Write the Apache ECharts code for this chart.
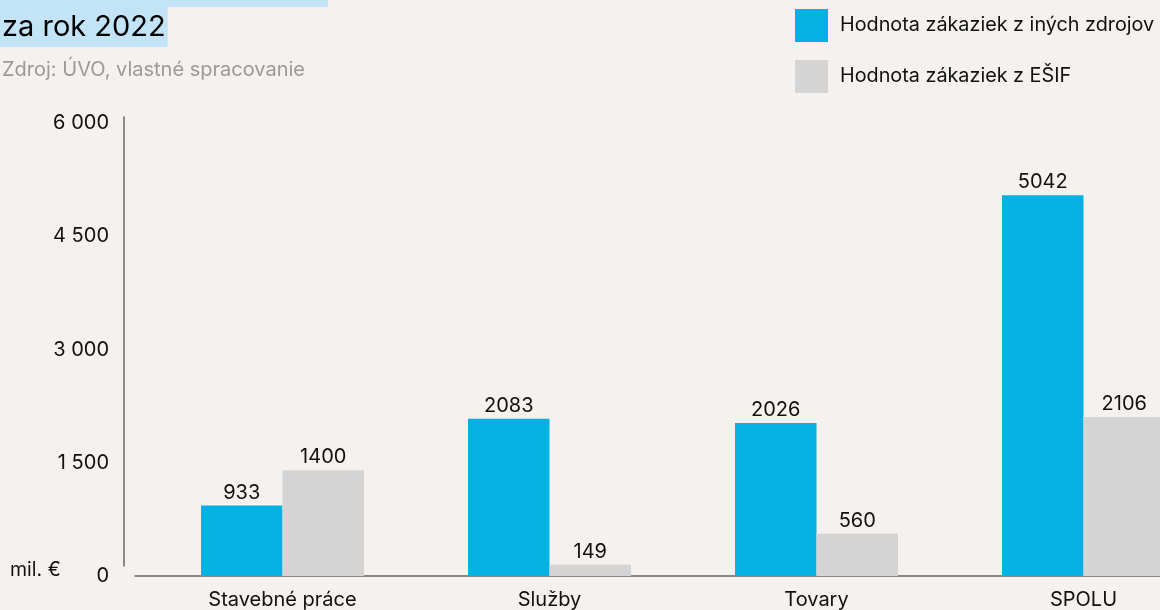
<!DOCTYPE html>
<html>
<head>
<meta charset="utf-8">
<script src="https://cdn.jsdelivr.net/npm/echarts@6/dist/echarts.min.js"></script>
<style>
  html, body { margin: 0; padding: 0; background: #f4f1ee; }
  #chart { width: 1160px; height: 610px; }
</style>
</head>
<body>
<div id="chart"></div>
<script>
const categories = ['Stavebné práce', 'Služby', 'Tovary', 'SPOLU'];
const otherSources = [933, 2083, 2026, 5042];
const esifValues = [1400, 149, 560, 2106];
const seriesNames = ['Hodnota zákaziek z iných zdrojov', 'Hodnota zákaziek z EŠIF'];
const yTicks = [0, 1500, 3000, 4500, 6000];
const titleText = 'za rok 2022';
const subtitleText = 'Zdroj: ÚVO, vlastné spracovanie';
const unitText = 'mil. €';

const FONT = 'Inter, "Noto Sans", sans-serif';
const chart = echarts.init(document.getElementById('chart'));

function fmt(v) {
  return String(v).replace(/\B(?=(\d{3})+(?!\d))/g, ' ');
}

chart.setOption({
  backgroundColor: '#f4f1ee',
  animation: false,
  textStyle: { fontFamily: FONT },
  title: [{
    text: titleText,
    left: 0, top: 7,
    padding: [5, 2, 5, 2],
    backgroundColor: '#c3e4f6',
    textStyle: { fontFamily: FONT, fontSize: 29, lineHeight: 30, fontWeight: 'normal', color: '#000' }
  }, {
    text: subtitleText,
    left: 2, top: 60,
    padding: 0,
    textStyle: { fontFamily: FONT, fontSize: 20, fontWeight: 'normal', color: '#9a9a9a' }
  }],
  legend: {
    orient: 'vertical',
    left: 795, top: 9,
    padding: 0,
    itemWidth: 33, itemHeight: 33, itemGap: 18,
    icon: 'rect',
    data: seriesNames,
    textStyle: { fontFamily: FONT, fontSize: 19.8, color: '#111', padding: [0, 0, 0, 7] }
  },
  graphic: [
    { type: 'rect', shape: { x: 0, y: 0, width: 328, height: 7 }, style: { fill: '#c3e4f6' } },
    { type: 'text', left: 10, top: 560, style: { text: unitText, font: '19.5px ' + FONT, fill: '#111' } }
  ],
  grid: [
    { left: 149, width: 1068, top: 123, bottom: 34, outerBoundsMode: 'none', containLabel: false },
    { left: 135, right: 0, top: 117, bottom: 34, outerBoundsMode: 'none' },
    { left: 124, right: 0, top: 117, bottom: 44, outerBoundsMode: 'none' }
  ],
  xAxis: [{
    type: 'category', gridIndex: 0, data: categories,
    axisLine: { show: false }, axisTick: { show: false },
    axisLabel: { margin: 14, fontFamily: FONT, fontSize: 20, color: '#111' }
  }, {
    type: 'value', gridIndex: 1, min: 0, max: 1, show: true,
    axisLine: { show: true, onZero: false, lineStyle: { color: '#666', width: 1.5 } },
    axisLabel: { show: false }, axisTick: { show: false }, splitLine: { show: false }
  }, {
    type: 'value', gridIndex: 2, min: 0, max: 1, show: false
  }],
  yAxis: [{
    type: 'value', gridIndex: 0, min: 0, max: 6000, interval: 1500,
    axisLine: { show: false }, axisTick: { show: false }, splitLine: { show: false },
    axisLabel: {
      margin: 40, fontFamily: FONT, fontSize: 20, color: '#111',
      formatter: v => yTicks.includes(v) ? fmt(v) : ''
    }
  }, {
    type: 'value', gridIndex: 1, min: 0, max: 1, show: false
  }, {
    type: 'value', gridIndex: 2, min: 0, max: 1, show: true,
    axisLine: { show: true, onZero: false, lineStyle: { color: '#666', width: 1.5 } },
    axisLabel: { show: false }, axisTick: { show: false }, splitLine: { show: false }
  }],
  series: [{
    name: seriesNames[0], type: 'bar', xAxisIndex: 0, yAxisIndex: 0,
    data: otherSources, barWidth: 81.5, barGap: '0%',
    itemStyle: { color: '#05b1e3' },
    label: { show: true, position: 'top', distance: 3, fontFamily: FONT, fontSize: 20, color: '#111' }
  }, {
    name: seriesNames[1], type: 'bar', xAxisIndex: 0, yAxisIndex: 0,
    data: esifValues, barWidth: 81.5, barGap: '0%',
    itemStyle: { color: '#d4d4d4' },
    label: { show: true, position: 'top', distance: 3, fontFamily: FONT, fontSize: 20, color: '#111' }
  }]
});
</script>
</body>
</html>
